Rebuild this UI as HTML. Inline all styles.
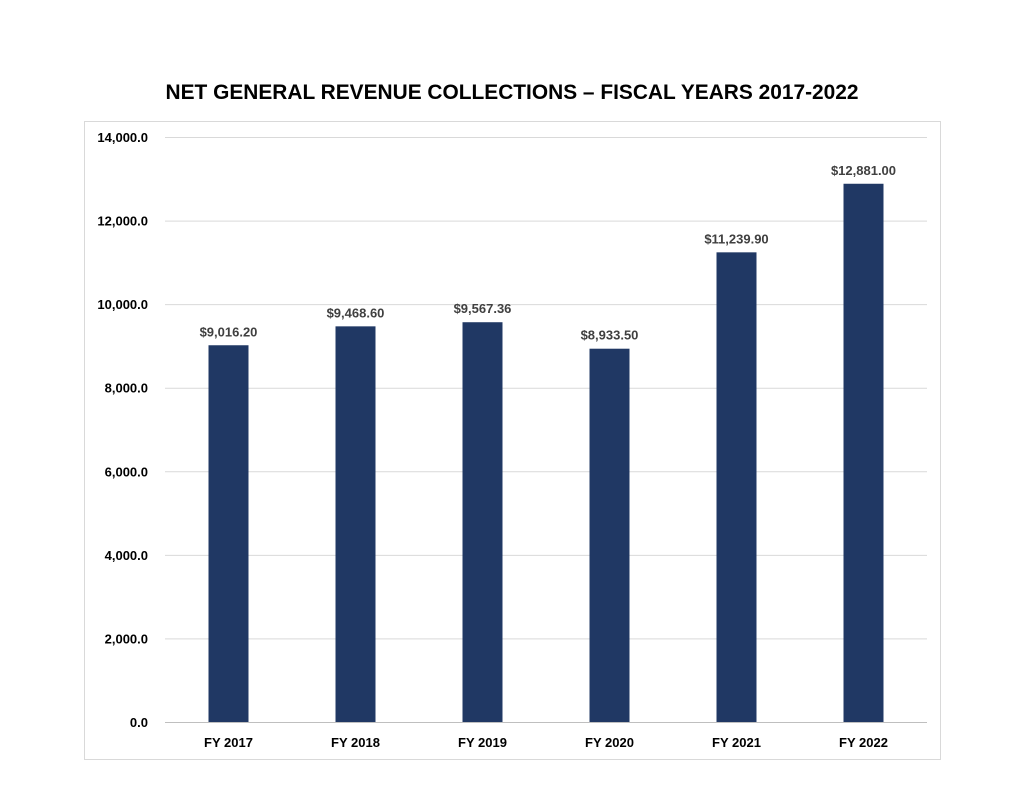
<!DOCTYPE html>
<html><head><meta charset="utf-8"><style>
html,body{margin:0;padding:0;background:#fff;}
svg{display:block;font-family:"Liberation Sans",sans-serif;}
</style></head><body>
<svg id="chart" width="1024" height="791">
<text x="512" y="99" text-anchor="middle" font-size="21" font-weight="bold" fill="#000" textLength="693" lengthAdjust="spacingAndGlyphs">NET GENERAL REVENUE COLLECTIONS – FISCAL YEARS 2017-2022</text>
<rect x="84.5" y="121.5" width="856" height="638" fill="none" stroke="#d9d9d9"/>
<g id="grid"></g><g id="bars"></g><g id="labels"></g>
</svg>
<script>
const categories=["FY 2017","FY 2018","FY 2019","FY 2020","FY 2021","FY 2022"];
const values=[9016.20,9468.60,9567.36,8933.50,11239.90,12881.00];
const valueLabels=["$9,016.20","$9,468.60","$9,567.36","$8,933.50","$11,239.90","$12,881.00"];
const ticks=[0,2000,4000,6000,8000,10000,12000,14000];
const tickLabels=["0.0","2,000.0","4,000.0","6,000.0","8,000.0","10,000.0","12,000.0","14,000.0"];
const NS="http://www.w3.org/2000/svg";
const x0=165,x1=927,y0=722,y1=137,yMax=14000;
const y=v=>y0-(v/yMax)*(y0-y1);
const band=(x1-x0)/categories.length;
const xc=i=>x0+band*(i+0.5);
function mk(t,a,p){const e=document.createElementNS(NS,t);for(const k in a)e.setAttribute(k,a[k]);document.getElementById(p).appendChild(e);return e;}
ticks.forEach((t,i)=>{
 const l=mk("line",{x1:x0,x2:x1,y1:y(t)+0.5,y2:y(t)+0.5,stroke:i==0?"#bfbfbf":"#d9d9d9","stroke-width":1},"grid");
 
 
 const tx=mk("text",{x:148,y:y(t)+5,"text-anchor":"end","font-size":13,"font-weight":"bold",fill:"#000"},"grid");
 tx.textContent=tickLabels[i];
 
 
});
categories.forEach((c,i)=>{
 const r=mk("rect",{x:xc(i)-20,y:y(values[i]),width:40,height:y0-y(values[i]),fill:"#203864"},"bars");
 
 
 const v=mk("text",{x:xc(i),y:y(values[i])-9,"text-anchor":"middle","font-size":13,"font-weight":"bold",fill:"#404040"},"labels");
 v.textContent=valueLabels[i];
 
 
 const cl=mk("text",{x:xc(i),y:747,"text-anchor":"middle","font-size":13,"font-weight":"bold",fill:"#000"},"labels");
 cl.textContent=c;
 
 
});
</script>
</body></html>
